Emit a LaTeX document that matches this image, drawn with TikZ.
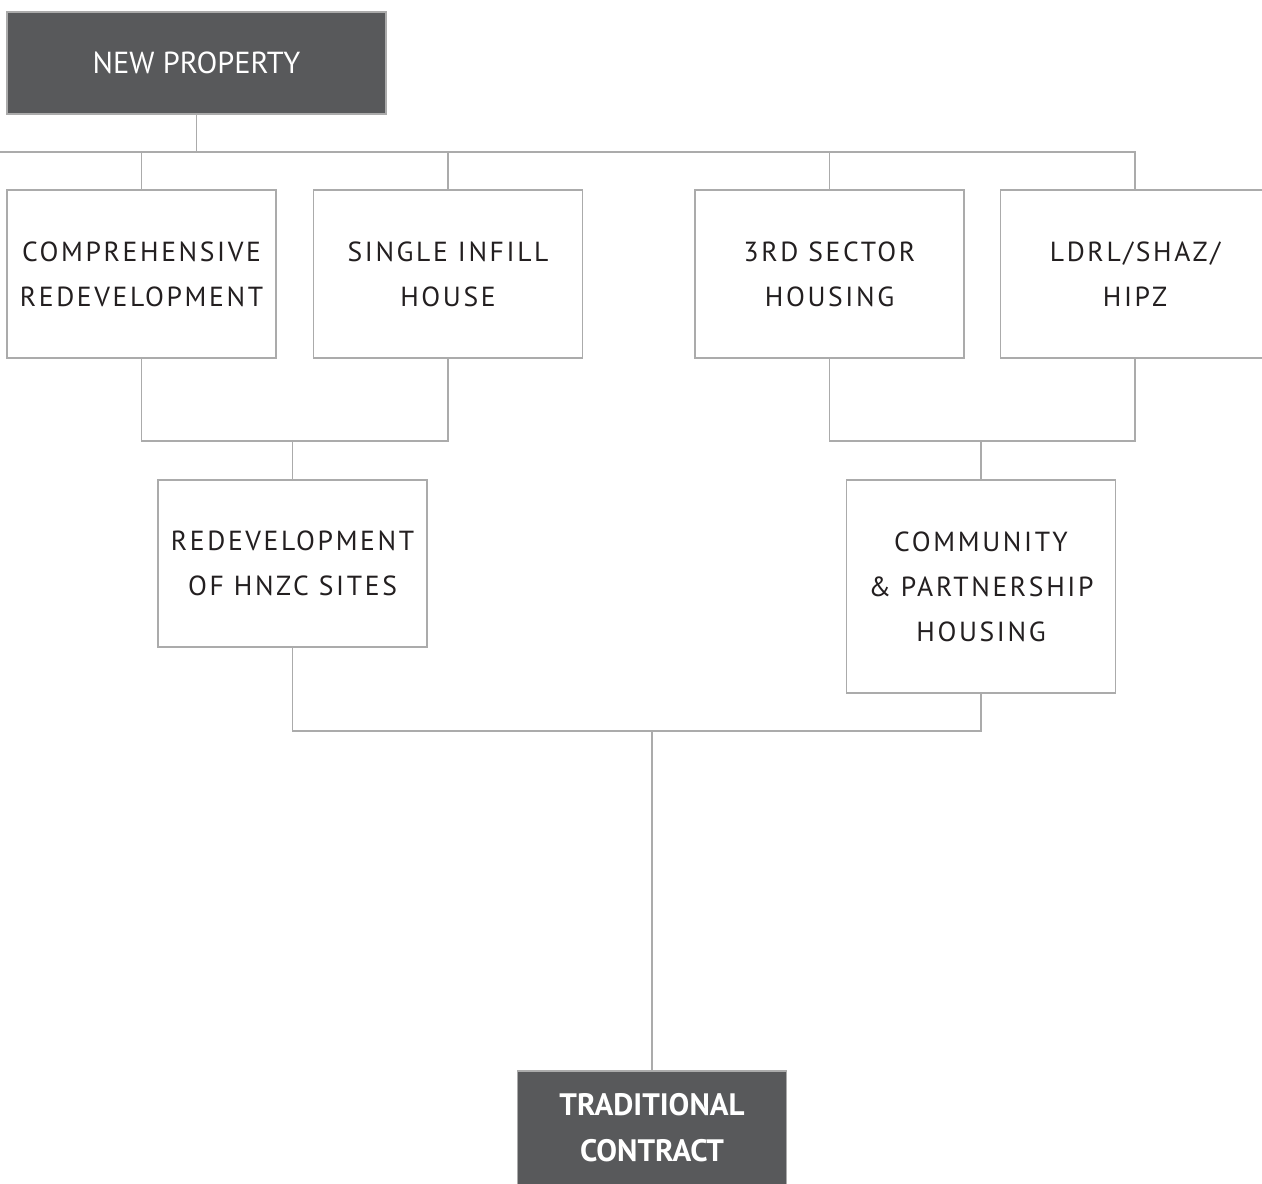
\documentclass[tikz,border=0pt]{standalone}
\usepackage{fontspec}
\setmainfont{PT Sans}
\newfontfamily\catfont[LetterSpace=9.5]{PT Sans}
\usetikzlibrary{positioning,calc}
\definecolor{boxdark}{HTML}{58595B}
\definecolor{linegray}{HTML}{ABABAB}
\definecolor{inkdark}{HTML}{231F20}
\tikzset{
  darkbox/.style={fill=boxdark, draw=linegray, line width=0.6pt, text=white, align=center,
    minimum width=134.5pt, font=\fontsize{15.2}{23}\selectfont, inner sep=0pt},
  catbox/.style={draw=linegray, line width=0.8pt, fill=white, text=inkdark, align=center,
    minimum width=134.5pt, minimum height=84pt, inner sep=0pt,
    font=\catfont\fontsize{13.8}{22.5}\selectfont},
  link/.style={draw=linegray, line width=0.9pt}
}
\begin{document}
\begin{tikzpicture}[x=0.5pt, y=-0.5pt]
\useasboundingbox (0,0) rectangle (1262,1183);
\clip (0,0) rectangle (1262,1183);
% top and bottom boxes
\node[darkbox, minimum width=189.5pt, minimum height=51pt] (np) at (196.5,63) {NEW PROPERTY};
\node[darkbox, minimum height=57pt, font=\bfseries\fontsize{15.5}{23}\selectfont] (trad) at (652,1128) {TRADITIONAL\\CONTRACT};

% first row
\node[catbox] (comp) at (141.5,274) {COMPREHENSIVE\\REDEVELOPMENT};
\node[catbox] (single) at (448,274) {SINGLE INFILL\\HOUSE};
\node[catbox] (third) at (829.5,274) {3RD SECTOR\\HOUSING};
\node[catbox] (ldrl) at (1135,274) {LDRL/SHAZ/\\HIPZ};

% second row
\node[catbox, minimum height=83.5pt] (redev) at (292.5,563.5) {REDEVELOPMENT\\OF HNZC SITES};
\node[catbox, minimum height=106.5pt] (comm) at (981,586.5) {COMMUNITY\\\& PARTNERSHIP\\HOUSING};

% connectors
\coordinate (bus) at (-10,152);
\coordinate (jl) at (293,441);
\coordinate (jr) at (980,441);
\coordinate (jb) at (652,731);
\draw[link] (bus) -| (ldrl.north);
\draw[link] (np.south) -- (np.south |- bus);
\draw[link] (comp.north) -- (comp.north |- bus);
\draw[link] (single.north) -- (single.north |- bus);
\draw[link] (third.north) -- (third.north |- bus);
\draw[link] (comp.south) |- (single.south |- jl) -- (single.south);
\draw[link] (redev.north) -- (redev.north |- jl);
\draw[link] (third.south) |- (ldrl.south |- jr) -- (ldrl.south);
\draw[link] (comm.north) -- (comm.north |- jr);
\draw[link] (redev.south) |- (comm.south |- jb) -- (comm.south);
\draw[link] (trad.north) -- (trad.north |- jb);
\end{tikzpicture}
\end{document}
